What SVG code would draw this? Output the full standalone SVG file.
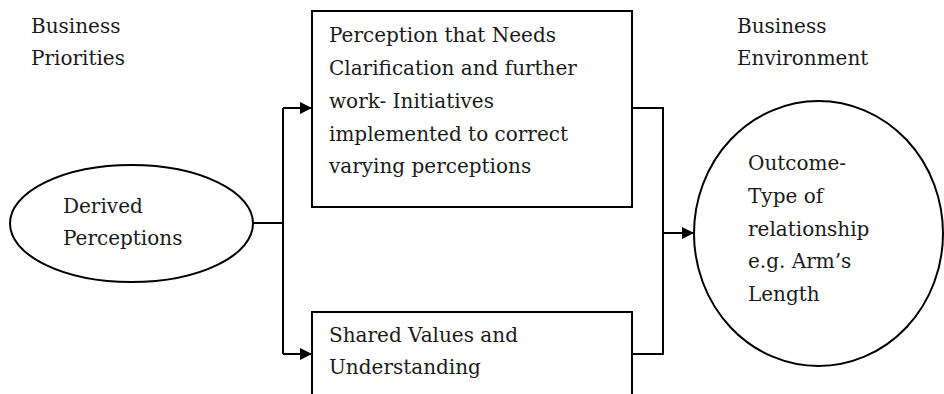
<svg xmlns="http://www.w3.org/2000/svg" width="944" height="394" viewBox="0 0 944 394">
  <style>
    .shape { fill: #ffffff; stroke: #000000; stroke-width: 2; }
    .wire { fill: none; stroke: #000000; stroke-width: 2; }
    .label { font-family: "DejaVu Serif", "Liberation Serif", serif; font-size: 20px; fill: #1a1a1a; }
  </style>
  <defs>
    <marker id="head" viewBox="0 0 12 12" refX="12" refY="6" markerWidth="12" markerHeight="12" markerUnits="userSpaceOnUse" orient="auto">
      <path d="M0,0 L12,6 L0,12 Z" fill="#000000"/>
    </marker>
  </defs>
  <rect width="944" height="394" fill="#ffffff"/>

  <!-- column headings -->
  <g id="heading-priorities">
    <text class="label" x="31" y="33">Business</text>
    <text class="label" x="31" y="65">Priorities</text>
  </g>
  <g id="heading-environment">
    <text class="label" x="737" y="33">Business</text>
    <text class="label" x="737" y="65">Environment</text>
  </g>

  <!-- connectors -->
  <g id="connectors">
    <path class="wire" d="M253,223 H283"/>
    <path class="wire" d="M283,108 V354"/>
    <path class="wire" d="M283,108 H312" marker-end="url(#head)"/>
    <path class="wire" d="M283,354 H312" marker-end="url(#head)"/>
    <path class="wire" d="M632,108 H663 V354 H632"/>
    <path class="wire" d="M663,233 H694" marker-end="url(#head)"/>
  </g>

  <g id="derived-perceptions">
    <ellipse class="shape" cx="131.5" cy="223.5" rx="121.5" ry="58.5"/>
    <text class="label" x="63" y="213">Derived</text>
    <text class="label" x="63" y="245">Perceptions</text>
  </g>

  <g id="needs-clarification">
    <rect class="shape" x="312" y="11" width="320" height="196"/>
    <text class="label" x="329" y="42">Perception that Needs</text>
    <text class="label" x="329" y="75">Clarification and further</text>
    <text class="label" x="329" y="108">work- Initiatives</text>
    <text class="label" x="329" y="141">implemented to correct</text>
    <text class="label" x="329" y="173">varying perceptions</text>
  </g>

  <g id="shared-values">
    <rect class="shape" x="312" y="312" width="320" height="100"/>
    <text class="label" x="329" y="342">Shared Values and</text>
    <text class="label" x="329" y="374">Understanding</text>
  </g>

  <g id="outcome">
    <ellipse class="shape" cx="818.5" cy="233.5" rx="124.5" ry="132.5"/>
    <text class="label" x="748" y="170">Outcome-</text>
    <text class="label" x="748" y="203">Type of</text>
    <text class="label" x="748" y="236">relationship</text>
    <text class="label" x="748" y="268">e.g. Arm’s</text>
    <text class="label" x="748" y="301">Length</text>
  </g>
</svg>
